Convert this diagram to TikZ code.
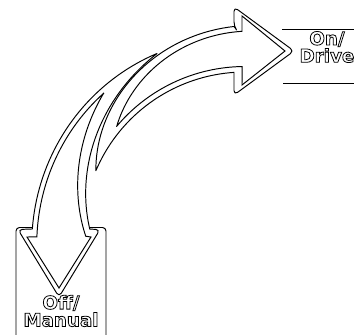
\documentclass[tikz,border=0pt]{standalone}
\usepackage{fontspec}
\setmainfont{DejaVu Sans}
\usepackage{tikz}
\usetikzlibrary{calc}
\newcommand{\hollowtext}[1]{\special{pdf:literal direct 1 Tr 0.45 w}#1\special{pdf:literal direct 0 Tr}}
\tikzset{
  halo/.style={draw=black, fill=white, line width=.55pt, line join=round},
  edge/.style={draw=black, line width=.55pt, line join=miter, miter limit=20},
  tabline/.style={draw=black, line width=.55pt, rounded corners=2pt},
  lbl/.style={font=\fontsize{10.4}{8.8}\selectfont\bfseries, align=center, inner sep=0pt},
  declare function={
    rAo(\t)=208-0.1876*(\t-92)-0.008*(\t-92)*(\t-92);
    rAe(\t)=202.5-0.1876*(\t-92)-0.01128*(\t-92)*(\t-92);
    rBo(\t)=213-0.19*(180-\t);
    rBi(\t)=154+0.73*(180-\t);
    rBe(\t)=208-0.19*(180-\t);
    rBei(\t)=160+0.88*(180-\t);
  },
}

\begin{document}
\begin{tikzpicture}[x=0.02cm, y=0.02cm]
    \clip (0,0) rectangle (354,334);
    % tabs
    \draw[tabline] (16,-10) -- (16,106.5) -- (106,106.5) -- (106,-10);
    \draw[tabline] (282,305) -- (370,305);
    \draw[tabline] (283,251) -- (370,251);

    % arrow up to On/Drive
    \filldraw[halo] plot[domain=157:93.9, samples=40] ({245+162*cos(\x)},{100+162*sin(\x)})
      [rounded corners=2.5pt] -- (234,239) -- (294,283) -- (234,327) -- (234,307.7) [sharp corners]
      -- plot[domain=93:157, samples=40] ({245+rAo(\x)*cos(\x)},{100+rAo(\x)*sin(\x)}) -- cycle;
    \draw[edge] plot[domain=140:91, samples=40] ({245+167.5*cos(\x)},{100+167.5*sin(\x)})
      -- (242,249) -- (285,283) -- (242,318) -- (242,302.7)
      -- plot[domain=91:140, samples=40] ({245+rAe(\x)*cos(\x)},{100+rAe(\x)*sin(\x)}) -- cycle;

    % arrow down to Off/Manual
    \filldraw[halo] plot[domain=116:178.65, samples=40] ({245+rBo(\x)*cos(\x)},{100+rBo(\x)*sin(\x)})
      [rounded corners=2.5pt] -- (18,104.5) -- (59,37) -- (100,104.5) [sharp corners]
      -- plot[domain=178.2:116, samples=40] ({245+rBi(\x)*cos(\x)},{100+rBi(\x)*sin(\x)}) -- cycle;
    \draw[edge] plot[domain=135.1:180.8, samples=40] ({245+rBe(\x)*cos(\x)},{100+rBe(\x)*sin(\x)})
      -- (27,97) -- (59,46) -- (91,97)
      -- plot[domain=180.8:135.1, samples=40] ({245+rBei(\x)*cos(\x)},{100+rBei(\x)*sin(\x)}) -- cycle;

    % hollow labels
    \node[lbl] (offmanual) at (61,23) {\hollowtext{Off/}\\\hollowtext{Manual}};
    \node[lbl] (ondrive) at (327,287) {\hollowtext{On/}\\\hollowtext{Drive}};
  \end{tikzpicture}
\end{document}
